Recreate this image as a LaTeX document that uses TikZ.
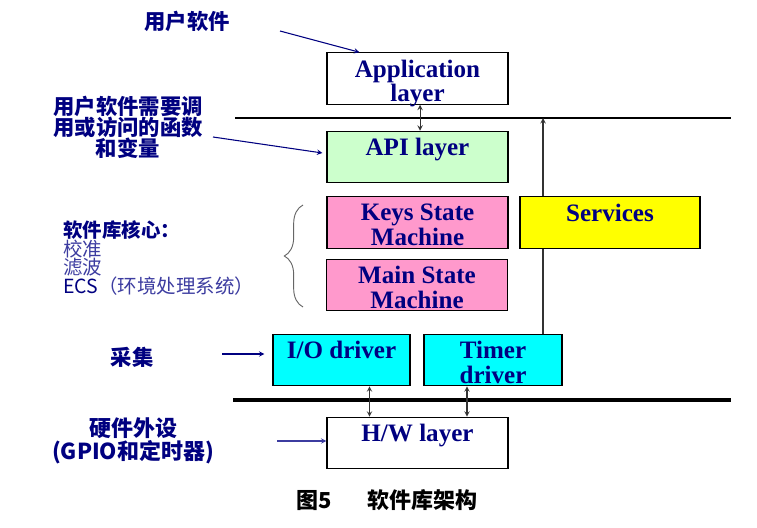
\documentclass[tikz,border=0pt]{standalone}
\usepackage{fontspec}
\setmainfont{Liberation Serif}
\newfontfamily\cjk{Noto Sans CJK SC}
\usetikzlibrary{decorations.pathreplacing}

\definecolor{navy}{RGB}{0,0,128}
\definecolor{softnavy}{RGB}{60,60,160}
\definecolor{apigreen}{RGB}{204,255,204}
\definecolor{smpink}{RGB}{255,153,204}
\definecolor{drvcyan}{RGB}{0,255,255}
\definecolor{srvyellow}{RGB}{255,255,0}

\begin{document}
\begin{tikzpicture}
	[x=0.75pt,y=-0.75pt,
	 layer/.style={draw,line width=0.9pt,inner sep=0,minimum width=135.75pt,minimum height=38.5pt},
	 driver/.style={layer,minimum width=103pt},
	 title/.style={anchor=north,yshift=-5.5pt,inner sep=0,align=center,text=navy,
	               font=\bfseries\fontsize{18.8}{18.5}\selectfont},
	 note/.style={text=navy,align=center,inner sep=0,font=\cjk\bfseries\fontsize{16}{15.75}\selectfont},
	 pointer/.style={->,>=stealth,navy,line width=0.8pt},
	 link/.style={<->,>=stealth,black!80,line width=0.8pt},
	 bus/.style={-,line width=1.5pt}]

	\path [use as bounding box] (0,0) rectangle (757,528);

	% bus lines
	\coordinate (bustl) at (235,118);
	\coordinate (bustr) at (731,118);
	\coordinate (busbl) at (233,400);
	\coordinate (busbr) at (731,400);
	\draw[bus] (bustl) -- (bustr);
	\draw[bus,line width=2.5pt] (busbl) -- (busbr);

	% layers
	\node[layer] (app)  at (417.5,78.5) {};
	\node[layer,fill=apigreen] (api)  at (417.5,157) {};
	\node[layer,fill=smpink] (keys) at (417.5,222.5) {};
	\node[layer,fill=smpink] (main) at (417,285) {};
	\node[driver,fill=drvcyan,minimum width=102.75pt] (io)    at (341.5,360) {};
	\node[driver,fill=drvcyan,minimum width=103.5pt]  (timer) at (493,360) {};
	\node[layer] (hw)   at (417.5,443) {};

	\draw[->,>=stealth,black!80,line width=0.8pt] ([xshift=37.5pt]timer.north) -- ([xshift=37.5pt]timer.north |- bustl);
	\node[layer,fill=srvyellow,minimum width=135pt] (serv) at (610,222.5) {};

	\node[title] (appt)   at (app.north)   {Application\\layer};
	\node[title] (apit)   at (api.north)   {API layer};
	\node[title] (keyst)  at (keys.north)  {Keys State\\Machine};
	\node[title] (maint)  at (main.north)  {Main State\\Machine};
	\node[title] (servt)  at (serv.north)  {Services};
	\node[title] (iot)    at (io.north)    {I/O driver};
	\node[title] (timert) at (timer.north) {Timer\\driver};
	\node[title] (hwt)    at (hw.north)    {H/W layer};

	\draw[link] ([xshift=1.9pt]app.south) -- ([xshift=1.9pt]api.north);
	\draw[link] ([xshift=21pt]io.south) -- ([xshift=21pt]io.south |- hw.north);
	\draw[link] ([xshift=-19.5pt]timer.south) -- ([xshift=-19.5pt]timer.south |- hw.north);

	% notes on the left
	\node[note] (usr)     at (187,21)  {用户软件};
	\node[note] (apinote) at (128,127) {用户软件需要调\\用或访问的函数\\和变量};
	\node[note,anchor=west,align=left,font=\cjk\fontsize{14.6}{13.8}\selectfont] (core) at (63,258)
		{{\bfseries 软件库核心：}\\\textcolor{softnavy}{校准}\\\textcolor{softnavy}{滤波}\\ECS\textcolor{softnavy}{（环境处理系统）}};
	\node[note] (acq)     at (132,357) {采集};
	\node[note,font=\cjk\bfseries\fontsize{16.5}{15}\selectfont] (hwnote)  at (133,441) {硬件外设\\(GPIO和定时器)};

	\coordinate (usrtail) at (280,31);
	\coordinate (apitail) at (213,137);
	\coordinate (acqtail) at (222,354);
	\coordinate (hwtail)  at (277,441);
	\draw[pointer] (usrtail) -- ([xshift=24.75pt]app.north west);
	\draw[pointer] (apitail) -- ([xshift=-3pt,yshift=3pt]api.west);
	\draw[pointer] (acqtail) -- ([xshift=-6pt,yshift=4.5pt]io.west);
	\draw[pointer,softnavy] (hwtail) -- ([yshift=1.5pt]hw.west);

	% brace round the core
	\coordinate (brlo) at (303,307);
	\coordinate (brhi) at (303,205);
	\draw[decorate,decoration={brace,amplitude=14pt},black!60,line width=0.7pt] (brlo) -- (brhi);

	\node[font=\cjk\bfseries\fontsize{16.5}{16.5}\selectfont] (cap) at (387,500) {图5\hspace{1.6em}软件库架构};
\end{tikzpicture}
\end{document}
